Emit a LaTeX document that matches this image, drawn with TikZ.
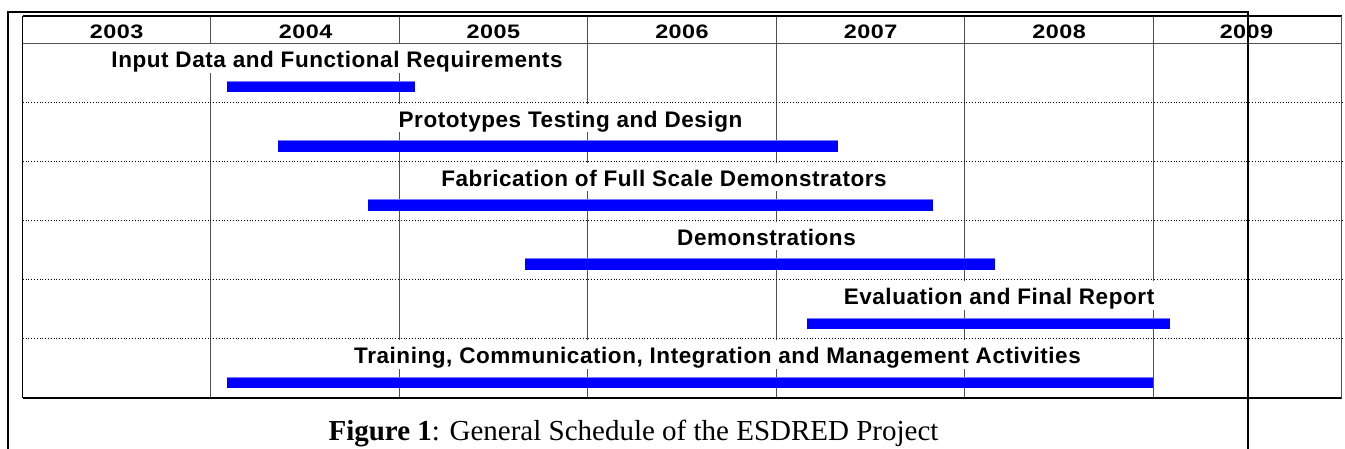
\documentclass[tikz,border=0pt]{standalone}
\usepackage{fontspec}
\setmainfont{Liberation Serif}
\newfontfamily\labfont[LetterSpace=2.5]{Liberation Sans}
\newfontfamily\yearfont[LetterSpace=2]{Liberation Sans}
\definecolor{barblue}{RGB}{0,0,255}
\definecolor{bartop}{RGB}{120,120,255}
\definecolor{gridgray}{RGB}{80,80,80}
\newcommand{\yearbox}[1]{\scalebox{1.2}[1]{#1}}
\tikzset{
  frameline/.style={line width=2pt, black},
  tableline/.style={line width=1.2pt, black},
  gridline/.style={line width=0.9pt, gridgray},
  rowsep/.style={dotted, line width=0.8pt, black},
  yearlabel/.style={anchor=base, inner sep=0pt, font=\yearfont\bfseries\fontsize{19.5}{21}\selectfont},
  tasklabel/.style={anchor=base, fill=white, inner xsep=3pt, inner ysep=0pt,
    text height=23.5pt, text depth=5pt, font=\labfont\bfseries\fontsize{22.5}{24}\selectfont},
  taskbar/.style={fill=barblue},
  bartopline/.style={bartop, line width=1pt},
  caption/.style={anchor=base, inner sep=0pt, font=\fontsize{29}{32}\selectfont}
}
\begin{document}
\begin{tikzpicture}[x=1pt, y=-1pt]
\useasboundingbox (0,0) rectangle (1345,449);
% grid coordinates
\foreach \i/\x in {0/22.7,1/210.6,2/399.1,3/587.7,4/776.3,5/964.9,6/1153.4,7/1341.7}{
  \coordinate (t\i) at (\x,16);
  \coordinate (b\i) at (\x,398);
}
% vertical grid lines
\foreach \i in {1,...,6}{ \draw[gridline] (t\i) -- (b\i); }
% header separator
\coordinate (hl) at (22.7,43);
\coordinate (hr) at (1341.7,43);
\draw[gridline] (hl) -- (hr);
% dotted row separators
\foreach \y in {102.2,161.3,220.5,279.7,338.8}{
  \draw[rowsep] (22.7,\y) -- (1341.7,\y);
}
% table border
\draw[tableline] (t0) -- (t7);
\draw[tableline] (b0) -- (b7);
\draw[tableline] (t0) -- (b0);
\draw[gridline] (t7) -- (b7);
% year headers
\node[yearlabel] (y2003) at (116.6,38.3) {\yearbox{2003}};
\node[yearlabel] (y2004) at (305.6,38.3) {\yearbox{2004}};
\node[yearlabel] (y2005) at (493.4,38.3) {\yearbox{2005}};
\node[yearlabel] (y2006) at (682.0,38.3) {\yearbox{2006}};
\node[yearlabel] (y2007) at (870.6,38.3) {\yearbox{2007}};
\node[yearlabel] (y2008) at (1059.2,38.3) {\yearbox{2008}};
\node[yearlabel] (y2009) at (1246.5,38.3) {\yearbox{2009}};
% task labels
\node[tasklabel] (l1) at (337,68) {Input Data and Functional Requirements};
\node[tasklabel] (l2) at (570.5,127.2) {Prototypes Testing and Design};
\node[tasklabel] (l3) at (664,186.3) {Fabrication of Full Scale Demonstrators};
\node[tasklabel] (l4) at (766.5,245.5) {Demonstrations};
\node[tasklabel] (l5) at (999,304.7) {Evaluation and Final Report};
\node[tasklabel] (l6) at (717.5,363.8) {Training, Communication, Integration and Management Activities};
% bars
\foreach \xa/\xb/\yt in {227/415/81, 278/838/140.2, 368/933/199.3, 525/995/258.5, 807/1169.5/317.7, 227/1153.4/376.8}{
  \fill[taskbar] (\xa,\yt) rectangle (\xb,\yt+11.5);
  \draw[bartopline] (\xa,\yt+0.5) -- (\xb,\yt+0.5);
}
% outer frame
\coordinate (fbl) at (8.3,449);
\coordinate (ftl) at (8.3,12);
\coordinate (ftr) at (1248,12);
\coordinate (fbr) at (1248,449);
\draw[frameline] (fbl) -- (ftl) -- (ftr) -- (fbr);
% caption
\node[caption] (cap) at (633.5,440) {\textbf{Figure 1}: General Schedule of the ESDRED Project};
\end{tikzpicture}
\end{document}
